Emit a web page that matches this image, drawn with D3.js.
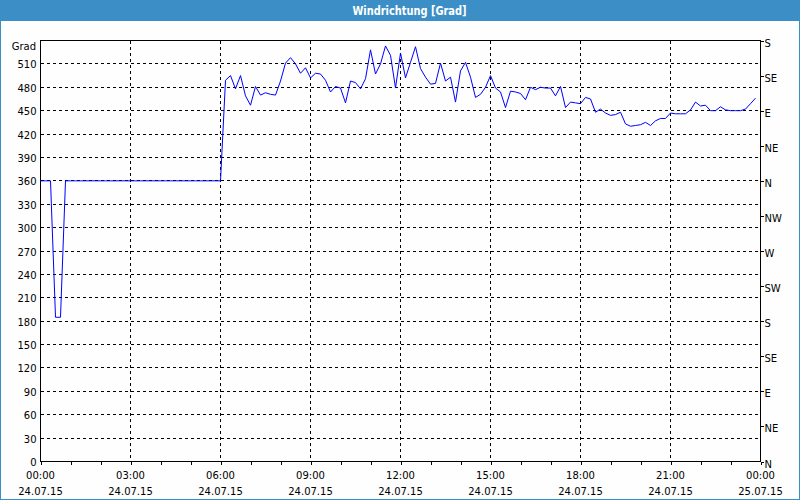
<!DOCTYPE html>
<html>
<head>
<meta charset="utf-8">
<script src="https://cdn.jsdelivr.net/npm/d3@7"></script>
<style>
  html, body { margin: 0; padding: 0; background: #fdfefd; }
  svg { display: block; }
  text { font-family: "DejaVu Sans", sans-serif; font-size: 10px; fill: #000; }
</style>
</head>
<body>
<svg id="chart" width="800" height="500"></svg>
<script>
// ---- data ----
const chartTitle = "Windrichtung [Grad]";
const yUnit = "Grad";
const startDay = Date.UTC(2015, 6, 24, 0, 0);
const endDay = Date.UTC(2015, 6, 25, 0, 0);
const stepMinutes = 10;
// wind direction every 10 minutes, 00:00 .. 23:50
const windDeg = [
  360,360,360,185,185,360,360,360,360,360,360,360,
  360,360,360,360,360,360,360,360,360,360,360,360,
  360,360,360,360,360,360,360,360,360,360,360,360,
  360,489,495,478,495,469,457,481,470,473,471,470,
  488,511,518,510,498,505,492,498,497,489,474,481,
  479,460,488,486,478,491,528,497,510,533,521,479,
  524,492,512,532,504,493,484,485,511,488,493,461,
  501,512,493,467,471,480,495,479,474,454,475,474,
  472,464,480,477,480,479,479,469,481,454,461,460,
  459,467,465,448,452,447,444,445,448,433,430,431,
  432,435,431,437,440,440,447,446,446,446,451,461,
  456,457,450,450,455,451,450,450,450,452,459,466
];
const yTicks = [0,30,60,90,120,150,180,210,240,270,300,330,360,390,420,450,480,510];
const dirTicks = [0,45,90,135,180,225,270,315,360,405,450,495,540];
const dirLabels = ["N","NE","E","SE","S","SW","W","NW","N","NE","E","SE","S"];
const timeLabels = ["00:00","03:00","06:00","09:00","12:00","15:00","18:00","21:00","00:00"];
const dateLabels = ["24.07.15","24.07.15","24.07.15","24.07.15","24.07.15","24.07.15","24.07.15","24.07.15","25.07.15"];

// ---- layout ----
const W = 800, H = 500;
const L = 40.5, R = 760.5, T = 40.5, B = 461.5;
const svg = d3.select("#chart");

// background & frame
svg.append("rect").attr("x",0.5).attr("y",0.5).attr("width",W-1).attr("height",H-1)
  .attr("fill","#fdfefd").attr("stroke","#3c8fc6").attr("stroke-width",1);
svg.append("rect").attr("x",0).attr("y",0).attr("width",W).attr("height",21).attr("fill","#3c8fc6");
svg.append("text").attr("x",409.5).attr("y",14.5).attr("text-anchor","middle")
  .attr("textLength",114).attr("lengthAdjust","spacingAndGlyphs")
  .style("font-weight","bold").style("font-size","12px").style("fill","#ffffff")
  .text(chartTitle);

const x = d3.scaleUtc().domain([startDay, endDay]).range([L, R]);
const y = d3.scaleLinear().domain([0, 540]).range([B, T]);

const times = windDeg.map((d, i) => new Date(startDay + i * stepMinutes * 60000));
const threeHours = d3.utcHour.every(3).range(new Date(startDay), new Date(endDay + 1));
const hours = d3.utcHour.every(1).range(new Date(startDay), new Date(endDay + 1));

// grid
const grid = svg.append("g").attr("shape-rendering","crispEdges")
  .attr("stroke","#000").attr("stroke-width",1).attr("stroke-dasharray","3,3");
grid.selectAll("line.h").data(yTicks.filter(v => v > 0)).join("line")
  .attr("x1", L).attr("x2", R).attr("y1", d => y(d)).attr("y2", d => y(d));
grid.selectAll("line.v").data(threeHours.slice(1, -1)).join("line")
  .attr("y1", T).attr("y2", B).attr("x1", d => x(d)).attr("x2", d => x(d));

// frame of plot
svg.append("rect").attr("x",L).attr("y",T).attr("width",R-L).attr("height",B-T)
  .attr("fill","none").attr("stroke","#000").attr("shape-rendering","crispEdges");

// bottom axis ticks
const xAxis = d3.axisBottom(x).tickValues(hours).tickSize(3).tickSizeOuter(0).tickFormat("");
const gx = svg.append("g").attr("transform",`translate(0,${B})`).call(xAxis);
gx.select(".domain").remove();
gx.selectAll("line").attr("shape-rendering","crispEdges");

const xl = svg.append("g");
xl.selectAll("text.t").data(threeHours).join("text").attr("class","t")
  .attr("x", d => x(d)).attr("y", 478.5).attr("text-anchor","middle")
  .text((d, i) => timeLabels[i]);
xl.selectAll("text.d").data(threeHours).join("text").attr("class","d")
  .attr("x", d => x(d)).attr("y", 495).attr("text-anchor","middle")
  .text((d, i) => dateLabels[i]);

// left axis labels
const yAxis = d3.axisLeft(y).tickValues(yTicks).tickSize(0).tickPadding(4).tickFormat(d => String(d));
const gy = svg.append("g").attr("transform",`translate(${L},0)`).call(yAxis);
gy.select(".domain").remove();
gy.selectAll("text").style("font-family","DejaVu Sans").style("font-size","10px").attr("dy","0.4em");
svg.append("text").attr("x",36).attr("y",50).attr("text-anchor","end").text(yUnit);

// right axis
const rAxis = d3.axisRight(y).tickValues(dirTicks).tickSize(3).tickPadding(1)
  .tickFormat((d, i) => dirLabels[i]);
const gr = svg.append("g").attr("transform",`translate(${R},0)`).call(rAxis);
gr.select(".domain").remove();
gr.selectAll("line").attr("shape-rendering","crispEdges");
gr.selectAll("text").style("font-family","DejaVu Sans").style("font-size","10px").attr("dy","0.55em");

// data line
const line = d3.line().x((d, i) => x(times[i])).y(d => y(d));
svg.append("path").datum(windDeg).attr("d", line)
  .attr("fill","none").attr("stroke","#0000ff").attr("stroke-width",1);
</script>
</body>
</html>
